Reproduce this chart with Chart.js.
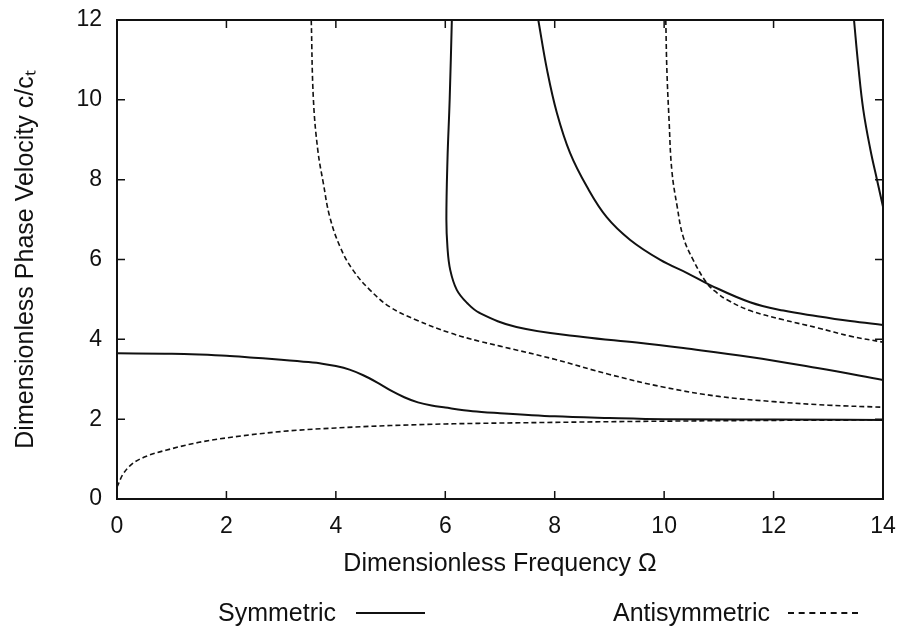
<!DOCTYPE html>
<html>
<head>
<meta charset="utf-8">
<script src="https://cdn.jsdelivr.net/npm/chart.js@4.4.1/dist/chart.umd.min.js"></script>
<style>
  body { margin: 0; background: #fff; }
  #wrap { position: relative; width: 905px; height: 633px; }
  .leg { position: absolute; font-family: "Liberation Sans", Arial, sans-serif; font-size: 25px; color: #111; line-height: 30px; }
  .sample { position: absolute; height: 0; border-top: 2px solid #111; }
  .sample.dash { border-top: 2px dashed #111; }
</style>
</head>
<body>
<div id="wrap">
  <canvas id="dispChart" width="905" height="633"></canvas>
  <div class="leg" style="left:218px; top:597px;">Symmetric</div>
  <div class="sample" style="left:356px; top:612px; width:69px;"></div>
  <div class="leg" style="left:613px; top:597px;">Antisymmetric</div>
  <div class="sample dash" style="left:788px; top:612px; width:70px;"></div>
</div>
<script>
// axis ticks
const xTicks = [0, 2, 4, 6, 8, 10, 12, 14];
const yTicks = [0, 2, 4, 6, 8, 10, 12];

// symmetric modes (solid)
const s0Omega = [0, 1, 1.5, 2, 2.5, 3, 3.5, 3.75, 4, 4.25, 4.5, 4.75, 5, 5.25, 5.5, 5.75, 6, 6.5, 7, 8, 9, 10, 12, 14];
const s0Vel   = [3.65, 3.64, 3.62, 3.59, 3.54, 3.49, 3.43, 3.39, 3.33, 3.24, 3.1, 2.92, 2.72, 2.55, 2.42, 2.34, 2.29, 2.2, 2.15, 2.07, 2.03, 2.0, 1.99, 1.98];
const s1Omega = [6.12, 6.08, 6.04, 6.02, 6.04, 6.09, 6.21, 6.4, 6.63, 7.3, 8.52, 9.5, 10.35, 11.57, 12.8, 14];
const s1Vel   = [12, 10, 8.5, 7.0, 6.3, 5.74, 5.24, 4.91, 4.66, 4.31, 4.06, 3.92, 3.78, 3.56, 3.28, 2.98];
const s2Omega = [7.7, 7.86, 8.04, 8.28, 8.59, 8.95, 9.38, 9.93, 10.42, 10.84, 11.57, 12.18, 12.8, 13.4, 14];
const s2Vel   = [12, 10.75, 9.67, 8.67, 7.82, 7.06, 6.49, 5.99, 5.66, 5.36, 4.93, 4.72, 4.58, 4.46, 4.36];
const s3Omega = [13.47, 13.55, 13.64, 13.77, 13.89, 14];
const s3Vel   = [12, 10.83, 9.75, 8.75, 8.0, 7.32];

// antisymmetric modes (dashed)
const a0Omega = [0, 0.1, 0.25, 0.5, 1, 1.5, 2, 3, 4, 5, 6, 8, 10, 12, 14];
const a0Vel   = [0.3, 0.6, 0.85, 1.05, 1.26, 1.42, 1.53, 1.69, 1.78, 1.84, 1.88, 1.92, 1.95, 1.97, 1.98];
const a1Omega = [3.55, 3.59, 3.67, 3.77, 3.89, 4.08, 4.31, 4.62, 4.99, 5.48, 6.09, 6.63, 7, 8, 9, 10, 11, 12, 13, 14];
const a1Vel   = [12, 10, 8.74, 7.92, 7.06, 6.31, 5.74, 5.24, 4.81, 4.48, 4.16, 3.95, 3.83, 3.5, 3.12, 2.8, 2.57, 2.44, 2.35, 2.3];
const a2Omega = [10.03, 10.05, 10.09, 10.14, 10.24, 10.35, 10.53, 10.78, 10.97, 11.15, 11.57, 12.18, 12.8, 13.4, 14];
const a2Vel   = [12, 10.75, 9.49, 8.24, 7.31, 6.56, 5.99, 5.41, 5.16, 4.99, 4.72, 4.49, 4.29, 4.08, 3.93];

const ink = '#111';
const fontFam = '"Liberation Sans", Arial, sans-serif';

const toPts = (xs, ys) => xs.map((x, i) => ({x: x, y: ys[i]}));

// monotone for the two flat fundamentals, bezier for the steep cut-off branches
const curve = (label, xs, ys, dashed, monotone) => ({
    label: label,
    data: toPts(xs, ys),
    showLine: true,
    pointRadius: 0,
    borderColor: ink,
    borderWidth: dashed ? 1.6 : 2,
    borderDash: dashed ? [5, 3] : [],
    cubicInterpolationMode: monotone ? 'monotone' : 'default',
    tension: 0.4,
    fill: false
});

// frame + inward tick marks on all four sides
const framePlugin = {
    id: 'frame',
    afterDraw(chart) {
        const {ctx, chartArea: a, scales} = chart;
        ctx.save();
        ctx.strokeStyle = ink;
        ctx.lineWidth = 2;
        ctx.strokeRect(a.left, a.top, a.right - a.left, a.bottom - a.top);
        ctx.lineWidth = 1.5;
        ctx.beginPath();
        xTicks.forEach(v => {
            const px = scales.x.getPixelForValue(v);
            ctx.moveTo(px, a.bottom); ctx.lineTo(px, a.bottom - 8);
            ctx.moveTo(px, a.top); ctx.lineTo(px, a.top + 8);
        });
        yTicks.forEach(v => {
            const py = scales.y.getPixelForValue(v);
            ctx.moveTo(a.left, py); ctx.lineTo(a.left + 8, py);
            ctx.moveTo(a.right, py); ctx.lineTo(a.right - 8, py);
        });
        ctx.stroke();
        ctx.restore();
    }
};

new Chart(document.getElementById('dispChart'), {
    type: 'scatter',
    data: {
        datasets: [
            curve('Symmetric', s0Omega, s0Vel, false, true),
            curve('Symmetric', s1Omega, s1Vel, false, false),
            curve('Symmetric', s2Omega, s2Vel, false, false),
            curve('Symmetric', s3Omega, s3Vel, false, false),
            curve('Antisymmetric', a0Omega, a0Vel, true, true),
            curve('Antisymmetric', a1Omega, a1Vel, true, false),
            curve('Antisymmetric', a2Omega, a2Vel, true, false)
        ]
    },
    options: {
        responsive: false,
        animation: false,
        layout: { padding: { top: 20, right: 22, bottom: 54, left: 0 } },
        plugins: { legend: { display: false }, tooltip: { enabled: false } },
        scales: {
            x: {
                type: 'linear', min: 0, max: 14,
                afterBuildTicks: s => { s.ticks = xTicks.map(v => ({value: v})); },
                afterFit: s => { s.height = 80; s.paddingLeft = 0; s.paddingRight = 0; },
                grid: { display: false, drawTicks: false },
                border: { display: false },
                ticks: { color: ink, padding: 14, font: { family: fontFam, size: 23 } },
                title: {
                    display: true, text: 'Dimensionless Frequency Ω', color: ink,
                    padding: { top: 0, bottom: 0 }, font: { family: fontFam, size: 25 }
                }
            },
            y: {
                type: 'linear', min: 0, max: 12,
                afterBuildTicks: s => { s.ticks = yTicks.map(v => ({value: v})); },
                afterFit: s => { s.width = 117; s.paddingTop = 0; s.paddingBottom = 0; },
                grid: { display: false, drawTicks: false },
                border: { display: false },
                ticks: { color: ink, padding: 15, font: { family: fontFam, size: 23 } },
                title: {
                    display: true, text: 'Dimensionless Phase Velocity c/cₜ', color: ink,
                    padding: { top: 11, bottom: 0 }, font: { family: fontFam, size: 25 }
                }
            }
        }
    },
    plugins: [framePlugin]
});
</script>
</body>
</html>
